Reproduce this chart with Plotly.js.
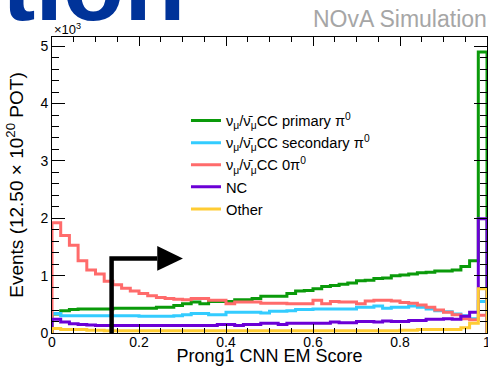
<!DOCTYPE html>
<html>
<head>
<meta charset="utf-8">
<script src="https://cdn.plot.ly/plotly-3.0.1.min.js"></script>
<style>
  html, body { margin: 0; padding: 0; background: #fff; }
  #chart { width: 488px; height: 366px; }
</style>
</head>
<body>
<div id="chart"></div>
<script>
// Prong1 CNN EM score, 50 bins of 0.02 between 0 and 1.
// Bin contents are in units of 10^3 events (12.50 x 10^20 POT).
const BIN_WIDTH = 0.02;

const seriesNames = [
  "ν<sub>μ</sub>/ν̄<sub>μ</sub>CC primary π<sup>0</sup>",
  "ν<sub>μ</sub>/ν̄<sub>μ</sub>CC secondary π<sup>0</sup>",
  "ν<sub>μ</sub>/ν̄<sub>μ</sub>CC 0π<sup>0</sup>",
  "NC",
  "Other"
];

const ccPrimaryPi0 = [
  0.33, 0.39, 0.41, 0.42, 0.42, 0.42, 0.42, 0.43, 0.43, 0.43,
  0.43, 0.43, 0.45, 0.45, 0.48, 0.51, 0.54, 0.51, 0.55, 0.55,
  0.55, 0.58, 0.58, 0.60, 0.64, 0.64, 0.64, 0.69, 0.73, 0.74,
  0.77, 0.81, 0.83, 0.85, 0.87, 0.91, 0.92, 0.95, 0.96, 1.00,
  1.01, 1.03, 1.05, 1.06, 1.08, 1.08, 1.10, 1.16, 1.26, 4.90
];

const ccSecondaryPi0 = [
  0.34, 0.30, 0.30, 0.30, 0.30, 0.30, 0.30, 0.30, 0.30, 0.30,
  0.29, 0.29, 0.29, 0.29, 0.30, 0.32, 0.34, 0.34, 0.32, 0.32,
  0.36, 0.36, 0.36, 0.36, 0.35, 0.38, 0.38, 0.39, 0.41, 0.41,
  0.42, 0.42, 0.42, 0.42, 0.42, 0.45, 0.45, 0.47, 0.43, 0.45,
  0.45, 0.47, 0.45, 0.42, 0.39, 0.37, 0.33, 0.30, 0.25, 0.55
];

const ccNoPi0 = [
  1.92, 1.70, 1.53, 1.26, 1.10, 1.03, 0.90, 0.84, 0.78, 0.73,
  0.69, 0.65, 0.62, 0.60, 0.59, 0.58, 0.60, 0.60, 0.57, 0.57,
  0.51, 0.54, 0.54, 0.54, 0.52, 0.52, 0.52, 0.51, 0.51, 0.51,
  0.57, 0.51, 0.55, 0.54, 0.54, 0.51, 0.56, 0.57, 0.57, 0.56,
  0.53, 0.52, 0.49, 0.45, 0.40, 0.36, 0.32, 0.25, 0.23, 0.31
];

const neutralCurrent = [
  0.24, 0.19, 0.16, 0.15, 0.14, 0.13, 0.13, 0.13, 0.13, 0.13,
  0.13, 0.13, 0.13, 0.13, 0.13, 0.13, 0.13, 0.13, 0.13, 0.15,
  0.15, 0.13, 0.15, 0.15, 0.17, 0.17, 0.15, 0.17, 0.17, 0.17,
  0.17, 0.17, 0.19, 0.18, 0.18, 0.20, 0.20, 0.19, 0.21, 0.20,
  0.20, 0.22, 0.22, 0.24, 0.24, 0.25, 0.24, 0.29, 0.36, 1.99
];

const otherEvents = [
  0.08, 0.06, 0.06, 0.06, 0.05, 0.05, 0.04, 0.04, 0.04, 0.04,
  0.04, 0.04, 0.04, 0.04, 0.04, 0.04, 0.04, 0.04, 0.04, 0.04,
  0.04, 0.04, 0.04, 0.04, 0.04, 0.04, 0.04, 0.04, 0.04, 0.04,
  0.04, 0.04, 0.04, 0.04, 0.04, 0.04, 0.04, 0.04, 0.04, 0.04,
  0.05, 0.05, 0.06, 0.06, 0.06, 0.06, 0.06, 0.09, 0.17, 0.77
];

const seriesValues = [ccPrimaryPi0, ccSecondaryPi0, ccNoPi0, neutralCurrent, otherEvents];
const seriesColors = ["#0a9a0a", "#33ccff", "#ff6b6b", "#6b00d6", "#ffcc33"];

const xTickVals = [0, 0.2, 0.4, 0.6, 0.8, 1];
const yTickVals = [0, 1, 2, 3, 4, 5];

// Selection cut marker: vertical line at the cut value, turning into an arrow.
const CUT_X = 0.137;
const CUT_ARROW_Y = 1.30;
const CUT_LINE_END_X = 0.242;
const CUT_HEAD_TIP_X = 0.301;
const CUT_HEAD_HALF = 0.215;

// Histogram outline as a step path through the bin edges.
function stepOutline(vals) {
  const x = [0], y = [0];
  vals.forEach((v, i) => { x.push(i * BIN_WIDTH); y.push(v); });
  const n = vals.length;
  x.push(n * BIN_WIDTH, n * BIN_WIDTH);
  y.push(vals[n - 1], 0);
  return { x, y };
}

const traces = seriesValues.map((vals, k) => {
  const o = stepOutline(vals);
  return {
    type: "scatter",
    mode: "lines",
    x: o.x,
    y: o.y,
    name: seriesNames[k],
    line: { color: seriesColors[k], width: 3, shape: "hv" },
    hoverinfo: "skip"
  };
});

const FONT = "Liberation Sans, Arial, Helvetica, sans-serif";

const layout = {
  width: 488,
  height: 366,
  margin: { l: 52, r: 1, t: 37, b: 33, pad: 0 },
  paper_bgcolor: "#ffffff",
  plot_bgcolor: "#ffffff",
  font: { family: FONT, color: "#000" },
  showlegend: true,
  legend: {
    x: 0.308, y: 0.772, xanchor: "left", yanchor: "top",
    bgcolor: "rgba(0,0,0,0)", borderwidth: 0,
    font: { family: FONT, size: 14.7, color: "#000" },
    itemwidth: 30, tracegroupgap: 0
  },
  xaxis: {
    range: [0, 1],
    tickvals: xTickVals,
    ticktext: xTickVals.map(v => String(v)),
    ticks: "inside", ticklen: 9, tickwidth: 1, tickcolor: "#000",
    minor: { dtick: 0.05, ticks: "inside", ticklen: 5, tickwidth: 1, tickcolor: "#000" },
    showline: true, linecolor: "#000", linewidth: 1, mirror: "ticks",
    showgrid: false, zeroline: false,
    ticklabeloverflow: "allow",
    ticklabelstandoff: -4,
    tickfont: { family: FONT, size: 14 },
    title: { text: "Prong1 CNN EM Score", font: { family: FONT, size: 18 }, standoff: 10 }
  },
  yaxis: {
    range: [0, 5.16],
    tickvals: yTickVals,
    ticktext: yTickVals.map(v => String(v)),
    ticks: "inside", ticklen: 13, tickwidth: 1, tickcolor: "#000",
    minor: { dtick: 0.2, ticks: "inside", ticklen: 7, tickwidth: 1, tickcolor: "#000" },
    showline: true, linecolor: "#000", linewidth: 1, mirror: "ticks",
    showgrid: false, zeroline: false,
    ticklabeloverflow: "allow",
    tickfont: { family: FONT, size: 14 },
    title: { text: "Events (12.50 × 10<sup>20</sup> POT)", font: { family: FONT, size: 19 }, standoff: 11 }
  },
  shapes: [
    {
      type: "path", xref: "x", yref: "y",
      path: `M ${CUT_X},0 L ${CUT_X},${CUT_ARROW_Y} L ${CUT_LINE_END_X},${CUT_ARROW_Y}`,
      line: { color: "#000", width: 4.5 }
    },
    {
      type: "path", xref: "x", yref: "y",
      path: `M ${CUT_LINE_END_X},${CUT_ARROW_Y + CUT_HEAD_HALF} L ${CUT_HEAD_TIP_X},${CUT_ARROW_Y} L ${CUT_LINE_END_X},${CUT_ARROW_Y - CUT_HEAD_HALF} Z`,
      fillcolor: "#000", line: { color: "#000", width: 0 }
    }
  ],
  annotations: [
    {
      text: "<b>tion</b>", xref: "paper", yref: "paper",
      x: -52 / 435, y: 1, xanchor: "left", yanchor: "bottom", yshift: -6,
      showarrow: false, font: { family: FONT, size: 100, color: "#003399" }
    },
    {
      text: "×10<sup>3</sup>", xref: "paper", yref: "paper",
      x: 0, y: 1, xanchor: "left", yanchor: "bottom", yshift: -2,
      showarrow: false, font: { family: FONT, size: 13, color: "#000" }
    },
    {
      text: "NOvA Simulation", xref: "paper", yref: "paper",
      x: 1, y: 1, xanchor: "right", yanchor: "bottom", yshift: 3, xshift: 2,
      showarrow: false, font: { family: FONT, size: 23, color: "#a6a6a6" }
    }
  ]
};

Plotly.newPlot("chart", traces, layout, { staticPlot: true, displayModeBar: false });
</script>
</body>
</html>
